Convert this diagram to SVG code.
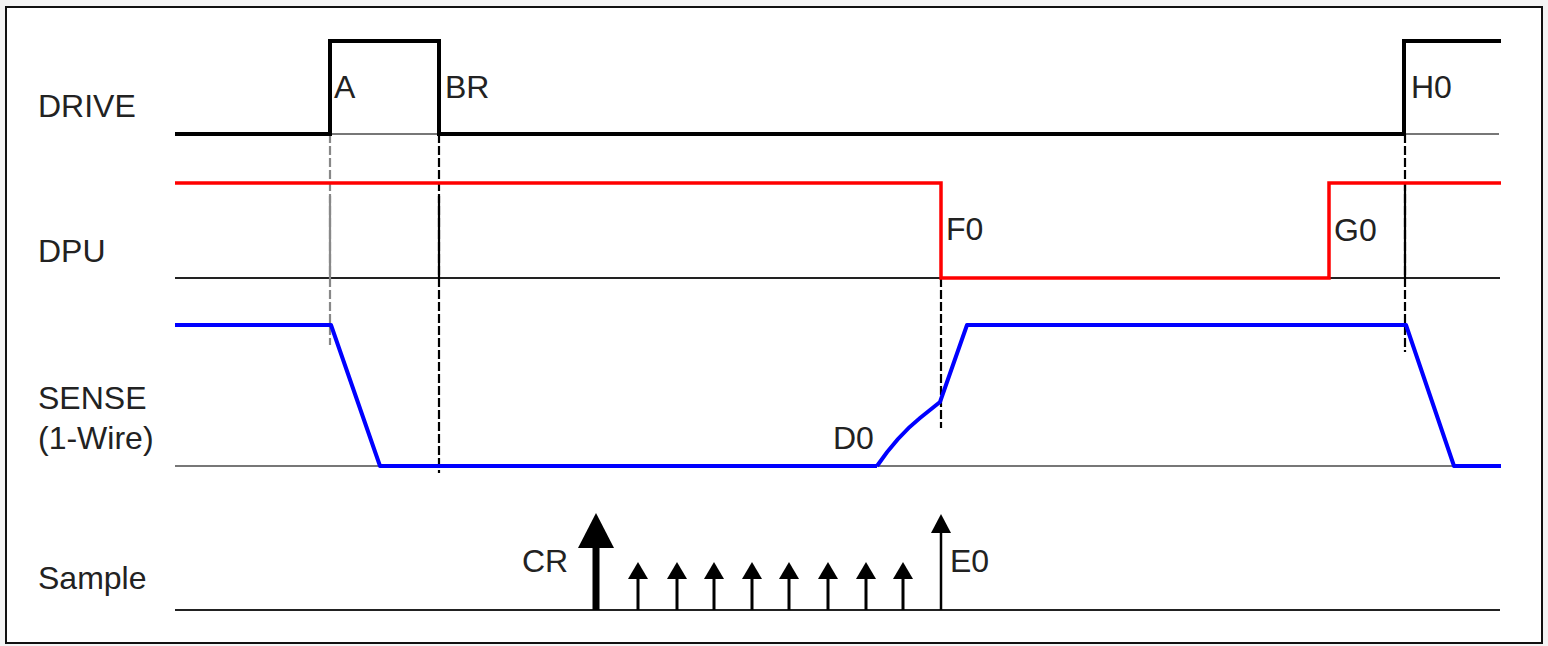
<svg xmlns="http://www.w3.org/2000/svg" width="1548" height="646" viewBox="0 0 1548 646">
<style>
text{font-family:"Liberation Sans",Arial,sans-serif;font-size:32px;fill:#222}
.base{stroke:#222;stroke-width:2;fill:none}
.gbase{stroke:#777;stroke-width:2;fill:none}
.drv{stroke:#000;stroke-width:4;fill:none;stroke-linejoin:miter}
.dpu{stroke:#f00;stroke-width:3.5;fill:none}
.sen{stroke:#00f;stroke-width:4;fill:none;stroke-linejoin:round}
.dash{stroke:#000;stroke-width:2.2;stroke-dasharray:9 3;fill:none}
.gdash{stroke:#888;stroke-width:2.2;stroke-dasharray:9 3;fill:none}
.sol{stroke:#000;stroke-width:2.2;fill:none}
.gsol{stroke:#888;stroke-width:2.2;fill:none}
.shaft{stroke:#000;fill:none}
</style>
<rect x="0" y="0" width="1548" height="646" fill="#f4f4f4"/>
<rect x="6" y="7" width="1536" height="636" fill="#fff" stroke="#111" stroke-width="2"/>

<g id="labels">
<text x="38" y="117">DRIVE</text>
<text x="38" y="262">DPU</text>
<text x="38" y="409">SENSE</text>
<text x="38" y="449">(1-Wire)</text>
<text x="38" y="589">Sample</text>
</g>

<g id="baselines">
<line class="gbase" x1="330" y1="134" x2="439" y2="134"/>
<line class="gbase" x1="1405" y1="134" x2="1499" y2="134"/>
<line class="base" x1="175" y1="278" x2="1500" y2="278"/>
<line class="gbase" x1="175" y1="466" x2="1500" y2="466"/>
<line class="base" x1="175" y1="610" x2="1500" y2="610" stroke="#333"/>
</g>

<g id="connectors">
<line class="gdash" x1="330" y1="134" x2="330" y2="345"/>
<line class="gsol" x1="330" y1="196" x2="330" y2="278"/>
<line class="dash" x1="439" y1="134" x2="439" y2="473"/>
<line class="sol" x1="439" y1="196" x2="439" y2="278"/>
<line class="dash" x1="941" y1="278" x2="941" y2="428"/>
<line class="dash" x1="1405" y1="134" x2="1405" y2="352"/>
<line class="sol" x1="1405" y1="183" x2="1405" y2="278"/>
</g>

<g id="drive">
<polyline class="drv" points="175,134 330,134 330,41 439,41 439,134 1404,134 1404,41 1501,41"/>
<text x="334" y="98">A</text>
<text x="445" y="98">BR</text>
<text x="1411" y="98">H0</text>
</g>

<g id="dpu">
<polyline class="dpu" points="175,183 941,183 941,278 1329,278 1329,183 1501,183"/>
<text x="946" y="240">F0</text>
<text x="1334" y="241">G0</text>
</g>

<g id="sense">
<polyline class="sen" points="175,325 331,325 380,466 877,466"/>
<path class="sen" d="M877,466 C890,447 905,430 920,418 L940,402 L967,325 L1406,325 L1454,466 L1501,466"/>
<text x="833" y="449">D0</text>
</g>

<g id="sample">
<line class="shaft" x1="596" y1="610" x2="596" y2="545" stroke-width="7"/>
<polygon points="596,513 614,548 578,548" fill="#000"/>
<text x="522" y="572">CR</text>
<g id="ticks">
<g transform="translate(638,0)"><line class="shaft" x1="0" y1="610" x2="0" y2="577" stroke-width="3"/><polygon points="0,562 10,579 -10,579" fill="#000"/></g>
<g transform="translate(677,0)"><line class="shaft" x1="0" y1="610" x2="0" y2="577" stroke-width="3"/><polygon points="0,562 10,579 -10,579" fill="#000"/></g>
<g transform="translate(714,0)"><line class="shaft" x1="0" y1="610" x2="0" y2="577" stroke-width="3"/><polygon points="0,562 10,579 -10,579" fill="#000"/></g>
<g transform="translate(752,0)"><line class="shaft" x1="0" y1="610" x2="0" y2="577" stroke-width="3"/><polygon points="0,562 10,579 -10,579" fill="#000"/></g>
<g transform="translate(789,0)"><line class="shaft" x1="0" y1="610" x2="0" y2="577" stroke-width="3"/><polygon points="0,562 10,579 -10,579" fill="#000"/></g>
<g transform="translate(828,0)"><line class="shaft" x1="0" y1="610" x2="0" y2="577" stroke-width="3"/><polygon points="0,562 10,579 -10,579" fill="#000"/></g>
<g transform="translate(866,0)"><line class="shaft" x1="0" y1="610" x2="0" y2="577" stroke-width="3"/><polygon points="0,562 10,579 -10,579" fill="#000"/></g>
<g transform="translate(903,0)"><line class="shaft" x1="0" y1="610" x2="0" y2="577" stroke-width="3"/><polygon points="0,562 10,579 -10,579" fill="#000"/></g>
</g>
<line class="shaft" x1="941" y1="610" x2="941" y2="530" stroke-width="2.5"/>
<polygon points="941,514 951,533 931,533" fill="#000"/>
<text x="950" y="572">E0</text>
</g>
</svg>
